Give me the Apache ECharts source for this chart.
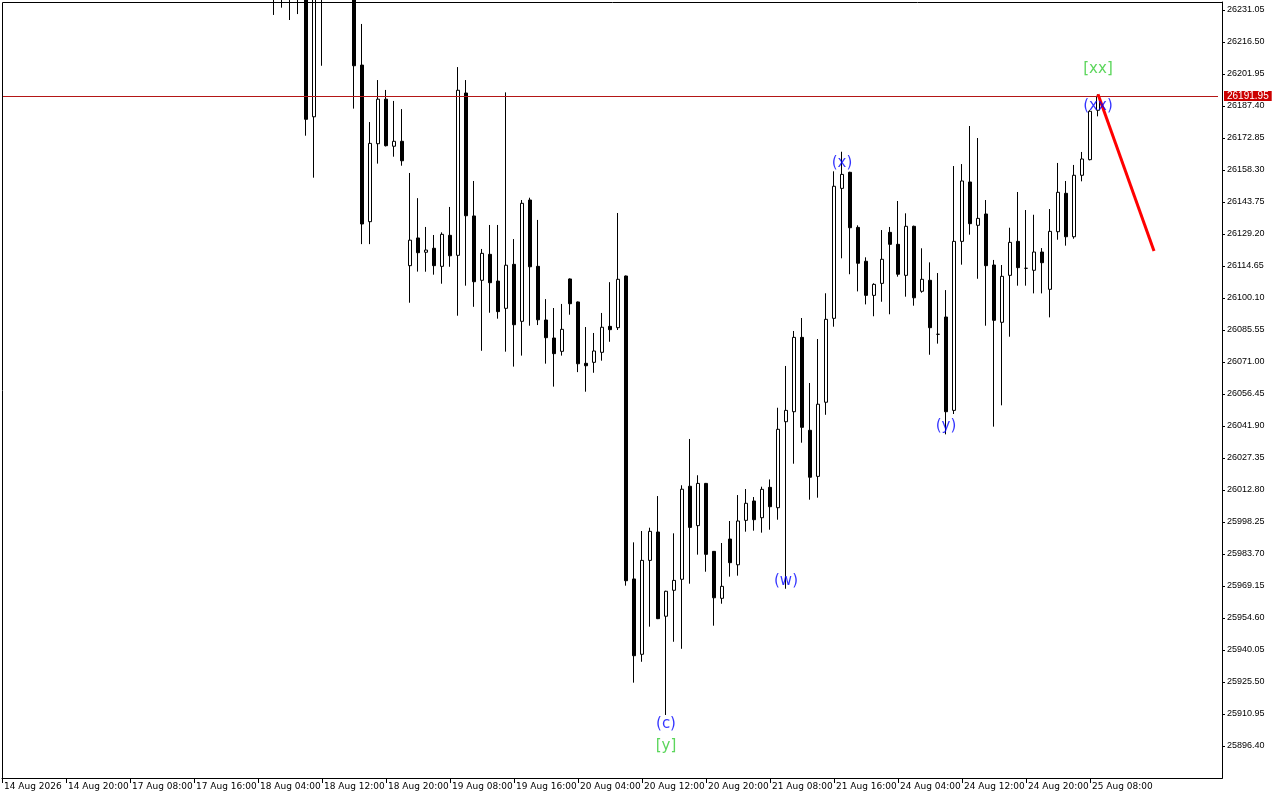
<!DOCTYPE html>
<html><head><meta charset="utf-8">
<script src="https://cdn.jsdelivr.net/npm/echarts@6/dist/echarts.min.js"></script>
<style>html,body{margin:0;padding:0;background:#fff}#c{width:1280px;height:800px}</style>
</head><body><div id="c"></div>
<script>
// Tick labels for the time axis (one every 8 bars)
const tickLabels = ['14 Aug 2026','14 Aug 20:00','17 Aug 08:00','17 Aug 16:00','18 Aug 04:00','18 Aug 12:00','18 Aug 20:00','19 Aug 08:00','19 Aug 16:00','20 Aug 04:00','20 Aug 12:00','20 Aug 20:00','21 Aug 08:00','21 Aug 16:00','24 Aug 04:00','24 Aug 12:00','24 Aug 20:00','25 Aug 08:00'];

// OHLC per bar (bars 0-33 and 41-43 lie entirely above the visible range)
const opens = [null,null,null,null,null,null,null,null,null,null,null,null,null,null,null,null,null,null,null,null,null,null,null,null,null,null,null,null,null,null,null,null,null,null,
26248,26246,26250,26244,26245,26182.5,26242,null,null,null,26240,26206.0,26134.8,26170.25,26190.5,26169.1,26171.35,26114.8,26127.4,26120.9,
26122.7,26114.5,26128.6,26119.5,26193.3,26137.4,26108.15,26119.95,26107.8,26095.4,26115.4,26089.5,26144.65,26114.5,26090.1,26081.9,26075.85,26108.75,26098.3,26070.4,
26070.85,26075.4,26087.2,26086.6,26110.1,25972.35,25938.1,25980.8,25993.7,25955.4,25967.2,25972.2,26014.5,25996.6,26015.8,25984.9,25963.55,25990.5,25978.8,25999.0,
26007.8,26000.2,26014.0,26004.75,26043.85,26048.4,26082.2,26039.95,26019.0,26052.7,26090.85,26149.95,26157.25,26132.2,26116.8,26101.3,26106.75,26129.95,26124.5,26110.4,
26132.7,26103.15,26108.15,26083.6,26091.45,26049.0,26125.85,26152.85,26133.15,26138.3,26115.1,26089.05,26110.4,26125.85,26113.6,26112.7,26121.0,26104.05,26130.25,26147.7,
26127.95,26155.9,26163.0,26185.45];
const closes = [null,null,null,null,null,null,null,null,null,null,null,null,null,null,null,null,null,null,null,null,null,null,null,null,null,null,null,null,null,null,null,null,null,null,
26242,26250,26244,26248,26181.35,26240,26238,null,null,null,26205.7,26133.75,26170.4,26190.5,26169.35,26171.35,26162.5,26126.4,26120.7,26121.9,
26114.8,26129.05,26119.3,26194.55,26137.5,26107.5,26120.4,26107.05,26093.9,26115.0,26087.95,26143.15,26114.3,26090.2,26082.05,26074.8,26085.85,26097.5,26070.2,26069.3,
26076.0,26086.8,26085.7,26108.6,25971.55,25937.45,25980.8,25994.0,25954.3,25966.75,25971.7,26013.15,25995.8,26015.8,25983.55,25963.8,25969.0,25979.75,25998.7,26006.75,
25999.3,26013.1,26005.2,26040.4,26049.0,26082.2,26041.3,26018.6,26051.8,26090.4,26150.9,26156.3,26132.05,26115.9,26101.3,26106.3,26117.7,26124.5,26110.9,26132.7,
26100.2,26108.6,26086.6,26083.6,26048.4,26125.85,26153.3,26133.9,26136.3,26114.8,26089.95,26109.95,26125.4,26113.9,26113.6,26121.0,26116.15,26130.4,26148.15,26127.95,
26155.9,26163.3,26185.0,26191.95];
const lows = [null,null,null,null,null,null,null,null,null,null,null,null,null,null,null,null,null,null,null,null,null,null,null,null,null,null,null,null,null,null,null,null,null,null,
26228.8,26232.1,26226.5,26229.2,26173.9,26154.8,26205.7,null,null,null,26186.2,26124.6,26124.6,26161.2,26169.0,26164.35,26160.25,26097.95,26112.1,26112.05,
26110.7,26106.6,26114.3,26092.05,26105.7,26096.1,26076.1,26093.4,26090.7,26075.7,26068.9,26073.9,26087.5,26087.8,26070.25,26059.8,26073.9,26092.5,26066.4,26057.5,
26066.1,26071.6,26080.2,26085.55,25969.3,25925.2,25934.7,25950.65,25954.1,25910.5,25943.8,25940.6,25970.2,25983.4,25975.65,25951.1,25961.1,25973.4,25973.85,25993.85,
25994.3,25993.4,25994.75,25999.3,25967.9,26024.75,26034.3,26008.4,26009.3,26047.0,26087.05,26118.15,26110.9,26103.1,26097.2,26091.8,26098.4,26092.7,26109.8,26100.7,
26096.6,26102.5,26074.3,26079.35,26038.1,26047.35,26115.25,26128.9,26108.85,26087.5,26041.6,26051.3,26082.5,26105.7,26105.7,26102.2,26102.2,26091.3,26126.6,26123.9,
26127.05,26153.15,26162.7,26182.7];
const highs = [null,null,null,null,null,null,null,null,null,null,null,null,null,null,null,null,null,null,null,null,null,null,null,null,null,null,null,null,null,null,null,null,null,null,
26255,26256,26254,26252,26250,26246,26248,null,null,null,26248,26224.7,26180.1,26199.2,26194.7,26189.7,26186.0,26156.95,26145.5,26132.4,
26128.75,26129.95,26141.5,26205.1,26199.2,26153.3,26122.4,26133.3,26133.3,26193.6,26126.9,26144.65,26145.7,26135.6,26099.6,26095.55,26097.4,26109.0,26098.5,26086.9,
26084.2,26093.3,26107.3,26138.75,26110.3,25989.0,25994.15,25995.65,26010.05,25967.0,25993.1,26014.95,26036.0,26019.5,26016.0,25985.0,25988.7,25998.7,26010.5,26013.25,
26009.6,26014.3,26017.6,26050.2,26069.2,26085.1,26091.0,26061.45,26081.45,26102.25,26157.7,26166.6,26157.5,26133.15,26118.6,26106.8,26131.0,26132.4,26144.2,26138.6,
26133.0,26122.7,26116.3,26111.45,26103.7,26160.1,26161.0,26178.3,26172.85,26144.65,26117.4,26115.1,26132.05,26148.3,26140.1,26137.95,26122.8,26140.55,26161.5,26153.3,
26160.6,26166.5,26185.5,26192.7];

const currentPrice = 26191.95;
// Projected move (bar index, price)
const projection = [[137, 26192.7], [144, 26121.45]];
// Wave labels (bar index, price, text)
const blueLabels = [[83, 25906.2, '(c)'], [98, 25971.4, '(w)'], [105, 26161.6, '(x)'], [118, 26041.8, '(y)'], [137, 26187.4, '(xx)']];
const greenLabels = [[83, 25896.3, '[y]'], [137, 26204.2, '[xx]']];

const SLOTS = 153;
const categories = Array.from({length: SLOTS}, (_, i) => i);
const candleData = opens.map((o, i) => o == null ? '-' : [o, closes[i], lows[i], highs[i]]);

const isTick = (i) => i % 8 === 0 && (i / 8) < tickLabels.length;

const chart = echarts.init(document.getElementById('c'), null, {renderer: 'canvas'});
const labelSeries = (arr, color) => ({
  type: 'scatter', symbolSize: 1, itemStyle: {color: 'rgba(0,0,0,0)'}, z: 10, silent: true,
  data: arr.map(d => ({value: [d[0], d[1]], name: d[2]})),
  label: {show: true, position: 'inside', formatter: '{b}', color: color, fontFamily: 'DejaVu Sans', fontSize: 15}
});

chart.setOption({
  animation: false,
  backgroundColor: '#ffffff',
  grid: {left: 2, top: 2, width: 1216, height: 776, containLabel: false},
  xAxis: {
    type: 'category', data: categories, boundaryGap: false,
    axisLine: {show: true, lineStyle: {color: '#000', width: 1}},
    axisTick: {show: true, length: 5, interval: (i) => isTick(i), lineStyle: {color: '#000'}},
    axisLabel: {interval: (i) => isTick(i), formatter: (v, i) => isTick(i) ? tickLabels[i / 8] : '',
      align: 'left', margin: 4, color: '#000', fontFamily: 'DejaVu Sans', fontSize: 9, padding: [0, 0, 0, 2]},
    splitLine: {show: false}
  },
  yAxis: {
    type: 'value', position: 'right', offset: 4, scale: true,
    min: 25881.85, max: 26234.6875, interval: 14.55,
    axisLine: {show: true, lineStyle: {color: '#000', width: 1}},
    axisTick: {show: true, length: 3, lineStyle: {color: '#000'}},
    axisLabel: {margin: 5, color: '#000', fontFamily: 'Liberation Sans', fontSize: 9,
      showMinLabel: false, showMaxLabel: false, formatter: (v) => v.toFixed(2)},
    splitLine: {show: false}
  },
  graphic: [{type: 'rect', silent: true, z: 100,
    shape: {x: 2.5, y: 2.5, width: 1220, height: 776},
    style: {fill: 'none', stroke: '#000', lineWidth: 1}}],
  series: [
    {
      type: 'candlestick', data: candleData, barWidth: 4, clip: true,
      itemStyle: {color: '#ffffff', color0: '#000000', borderColor: '#000000', borderColor0: '#000000', borderWidth: 1},
      markLine: {
        silent: true, symbol: ['none', 'none'], animation: false,
        lineStyle: {color: '#B41616', width: 1, type: 'solid'},
        label: {show: true, position: 'end', distance: 6, formatter: currentPrice.toFixed(2),
          backgroundColor: '#CC0000', color: '#fff', fontFamily: 'Liberation Sans', fontSize: 10,
          lineHeight: 10, padding: [0, 3, 0, 3]},
        data: [{yAxis: currentPrice}]
      }
    },
    {
      type: 'line', data: projection, symbol: 'none', silent: true, z: 5,
      lineStyle: {color: '#FF0000', width: 3}
    },
    labelSeries(blueLabels, '#0000FF'),
    labelSeries(greenLabels, '#33CC33')
  ]
});
</script></body></html>
